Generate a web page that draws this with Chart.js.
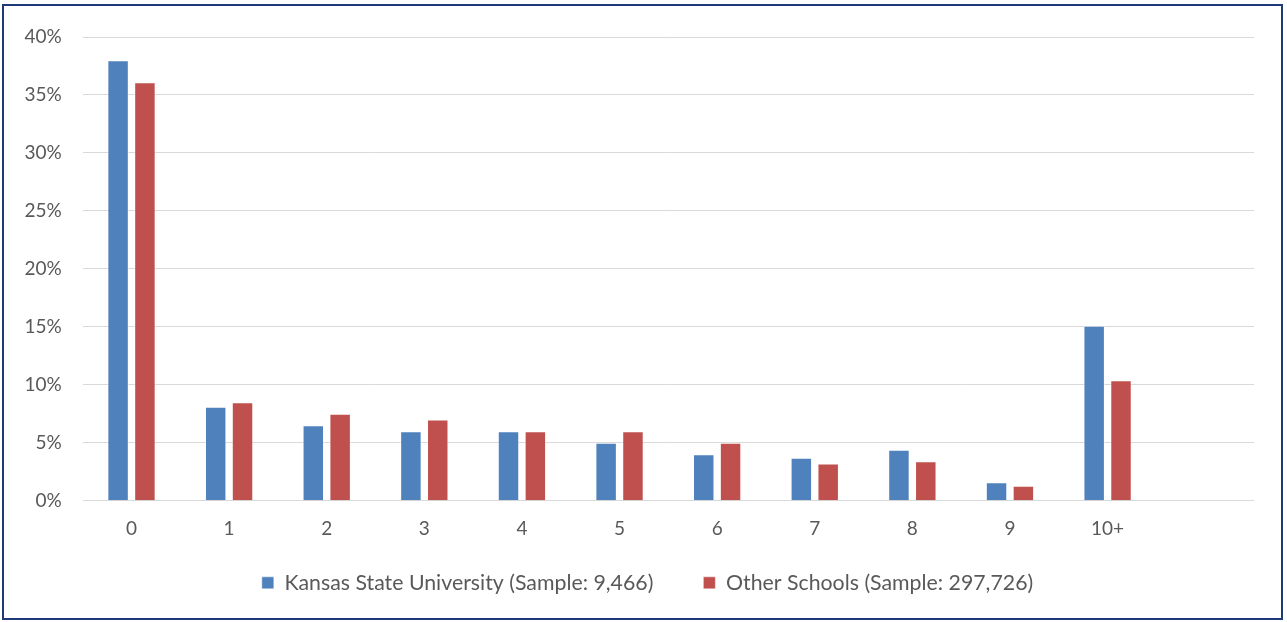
<!DOCTYPE html>
<html><head><meta charset="utf-8">
<script src="https://cdn.jsdelivr.net/npm/chart.js@4"></script>
<style>html,body{margin:0;padding:0;background:#fff;}#wrap{position:absolute;left:0;top:0;width:1287px;height:622px;}</style>
</head><body><div id="wrap"><canvas id="c" width="1287" height="622"></canvas></div>
<script>
const categories = ["0","1","2","3","4","5","6","7","8","9","10+",""];
const kstateValues = [38.0, 8.1, 6.5, 6.0, 6.0, 5.0, 4.0, 3.7, 4.4, 1.6, 15.1, null];
const otherValues = [36.1, 8.5, 7.5, 7.0, 6.0, 6.0, 5.0, 3.2, 3.4, 1.3, 10.4, null];
const seriesNames = ["Kansas State University (Sample: 9,466)", "Other Schools (Sample: 297,726)"];
const yTicks = [0,5,10,15,20,25,30,35,40];

const FONT = "Lato, 'Liberation Sans', Arial, sans-serif";
const frame = {id:'frame',
  afterLayout(chart){ const lg=chart.legend; if(lg){ lg.top -= 17.5; lg.bottom -= 17.5; lg.left += 20.5; lg.right += 20.5; } },
  afterDraw(chart){const c=chart.ctx;c.save();c.strokeStyle='#1F3A7A';c.lineWidth=2;c.strokeRect(3,5,1279,614);c.restore();}};
new Chart(document.getElementById('c'), {
  type:'bar',
  data:{labels:categories, datasets:[
    {label:seriesNames[0], data:kstateValues, backgroundColor:'#4F81BD', borderColor:'rgba(255,255,255,0.45)', borderWidth:1, categoryPercentage:0.55, barPercentage:0.8},
    {label:seriesNames[1], data:otherValues, backgroundColor:'#C0504D', borderColor:'rgba(255,255,255,0.45)', borderWidth:1, categoryPercentage:0.55, barPercentage:0.8}
  ]},
  options:{responsive:false, animation:false, devicePixelRatio:1,
    layout:{padding:{top:37,left:0,right:33,bottom:1}},
    plugins:{tooltip:{enabled:false},
      legend:{position:'bottom', labels:{boxWidth:12, boxHeight:12, padding:50, color:'#595959', font:{family:FONT,size:21.3}}}},
    scales:{
      x:{grid:{display:false}, border:{display:false}, ticks:{color:'#595959', padding:9, autoSkip:false, maxRotation:0, font:{family:FONT,size:19}},
         afterFit(s){s.height=39;}},
      y:{min:0,max:40, afterBuildTicks(s){s.ticks=yTicks.map(v=>({value:v}));},
         grid:{color:'#D9D9D9', lineWidth:1, drawTicks:false}, border:{display:false},
         ticks:{color:'#595959', padding:21, font:{family:FONT,size:19}, callback:v=>v+'%'},
         afterFit(s){s.width=82.7;}}
    }
  },
  plugins:[frame]
});
</script></body></html>
